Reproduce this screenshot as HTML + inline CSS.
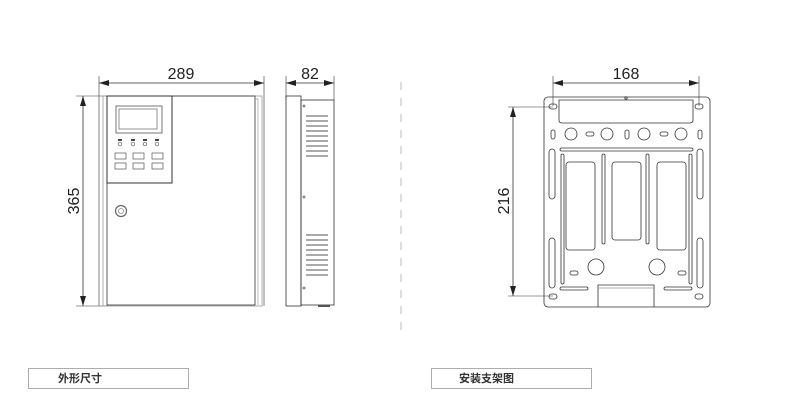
<!DOCTYPE html>
<html><head><meta charset="utf-8"><style>
html,body{margin:0;padding:0;background:#fff;width:800px;height:420px;overflow:hidden}
svg{display:block}
text{font-family:"Liberation Sans",sans-serif;fill:#222}
.c{font-family:"Liberation Sans","Noto Sans CJK SC",sans-serif;font-size:11px;font-weight:bold;fill:#333}
</style></head><body>
<svg width="800" height="420" viewBox="0 0 800 420" xmlns="http://www.w3.org/2000/svg">
<defs>
<marker id="a" viewBox="0 0 10 6" refX="10" refY="3" markerWidth="10" markerHeight="6" orient="auto-start-reverse" markerUnits="userSpaceOnUse"><path d="M0,0 L10,3 L0,6 Z" fill="#222"/></marker>
</defs>
<g stroke="#333" stroke-width="0.8" fill="none">
<line x1="99" y1="76" x2="99" y2="306" stroke-width="0.6"/>
<line x1="264" y1="76" x2="264" y2="306" stroke-width="0.6"/>
<line x1="99" y1="83" x2="264" y2="83" marker-start="url(#a)" marker-end="url(#a)"/>
<line x1="76" y1="96" x2="108" y2="96" stroke-width="0.6"/>
<line x1="76" y1="306" x2="108" y2="306" stroke-width="0.6"/>
<line x1="83" y1="96" x2="83" y2="306" marker-start="url(#a)" marker-end="url(#a)"/>
<rect x="103" y="96" width="159" height="210" stroke="#999"/>
<rect x="107" y="96" width="148" height="209"/>
<line x1="255" y1="99" x2="258" y2="99" stroke="#999"/>
<line x1="258" y1="99" x2="258" y2="305" stroke="#aaa"/>
<rect x="107" y="96" width="65" height="87" stroke="#333" stroke-width="1"/>
<rect x="116" y="106" width="46" height="27" stroke="#555"/>
<rect x="119" y="109" width="38" height="20" stroke="#777"/>
<circle cx="121" cy="211" r="5.5" stroke="#666" stroke-width="1.2"/>
<circle cx="121" cy="211" r="2.5" stroke="#888"/>
<line x1="286" y1="76" x2="286" y2="100" stroke-width="0.6"/>
<line x1="334" y1="76" x2="334" y2="100" stroke-width="0.6"/>
<line x1="286" y1="83" x2="334" y2="83" marker-start="url(#a)" marker-end="url(#a)"/>
<rect x="286" y="96" width="15" height="210"/>
<rect x="301" y="100" width="33" height="205"/>
<line x1="318" y1="306" x2="330" y2="306" stroke="#555" stroke-width="2"/>
<line x1="553" y1="76" x2="553" y2="106" stroke-width="0.6"/>
<line x1="699" y1="76" x2="699" y2="106" stroke-width="0.6"/>
<line x1="553" y1="83" x2="699" y2="83" marker-start="url(#a)" marker-end="url(#a)"/>
<line x1="508" y1="107" x2="553" y2="107" stroke-width="0.6"/>
<line x1="508" y1="296" x2="553" y2="296" stroke-width="0.6"/>
<line x1="513" y1="107" x2="513" y2="296" marker-start="url(#a)" marker-end="url(#a)"/>
<rect x="544" y="97" width="166" height="210" rx="4"/>
<path d="M559 100 V120 Q559 123 562 123 H690 Q693 123 693 120 V100 Z"/>
<circle cx="626" cy="98" r="1.2"/>
<rect x="549" y="104" width="8" height="5" rx="2.5"/><rect x="695" y="104" width="8" height="5" rx="2.5"/>
<rect x="549" y="294" width="8" height="5" rx="2.5"/><rect x="695" y="294" width="8" height="5" rx="2.5"/>
<circle cx="571" cy="134" r="6"/><circle cx="607" cy="134" r="6"/><circle cx="644" cy="134" r="6"/><circle cx="681" cy="134" r="6"/>
<rect x="551" y="130" width="4" height="9" rx="2"/><rect x="625" y="130" width="4" height="9" rx="2"/><rect x="698" y="130" width="4" height="9" rx="2"/>
<rect x="586" y="132" width="8" height="4" rx="2"/><rect x="660" y="132" width="8" height="4" rx="2"/>
<rect x="560" y="148" width="133" height="3" rx="1.5"/>
<rect x="549" y="149" width="6" height="50" rx="3"/><rect x="697" y="149" width="6" height="50" rx="3"/>
<rect x="549" y="238" width="6" height="50" rx="3"/><rect x="697" y="238" width="6" height="50" rx="3"/>
<rect x="561" y="154" width="3" height="130" rx="1.5"/><rect x="689" y="154" width="3" height="130" rx="1.5"/>
<rect x="602" y="154" width="3" height="90" rx="1.5"/><rect x="646" y="154" width="3" height="90" rx="1.5"/>
<rect x="566" y="162" width="29" height="88" rx="3"/>
<rect x="612" y="162" width="29" height="78" rx="3"/>
<rect x="657" y="162" width="29" height="88" rx="3"/>
<circle cx="596" cy="267" r="8"/><circle cx="657" cy="267" r="8"/>
<rect x="570" y="271" width="8" height="4" rx="2"/><rect x="678" y="271" width="8" height="4" rx="2"/>
<rect x="560" y="287" width="28" height="3" rx="1.5"/><rect x="664" y="287" width="28" height="3" rx="1.5"/>
<path d="M598 307 V285 H654 V307"/><line x1="598" y1="288" x2="654" y2="288" stroke="#999"/>
<rect x="28.5" y="368.5" width="160" height="20" stroke="#999"/>
<rect x="431.5" y="368.5" width="160" height="20" stroke="#999"/>
</g>
<g stroke="#777" stroke-width="1.2">
<line x1="306" y1="116" x2="328" y2="116"/><line x1="306" y1="121" x2="328" y2="121"/><line x1="306" y1="126" x2="328" y2="126"/><line x1="306" y1="131" x2="328" y2="131"/><line x1="306" y1="136" x2="328" y2="136"/><line x1="306" y1="141" x2="328" y2="141"/><line x1="306" y1="146" x2="328" y2="146"/><line x1="306" y1="151" x2="328" y2="151"/><line x1="306" y1="156" x2="328" y2="156"/>
<line x1="306" y1="235" x2="328" y2="235"/><line x1="306" y1="240" x2="328" y2="240"/><line x1="306" y1="245" x2="328" y2="245"/><line x1="306" y1="250" x2="328" y2="250"/><line x1="306" y1="255" x2="328" y2="255"/><line x1="306" y1="260" x2="328" y2="260"/><line x1="306" y1="265" x2="328" y2="265"/><line x1="306" y1="270" x2="328" y2="270"/><line x1="306" y1="275" x2="328" y2="275"/>
</g>
<g fill="none" stroke="#555" stroke-width="0.7">
<circle cx="304" cy="106" r="1"/><circle cx="304" cy="197" r="1"/><circle cx="304" cy="288" r="1"/>
<circle cx="120" cy="144" r="1.8"/><circle cx="133" cy="144" r="1.8"/><circle cx="145" cy="144" r="1.8"/><circle cx="157" cy="144" r="1.8"/>
<rect x="115" y="153" width="11" height="6"/><rect x="133" y="153" width="11" height="6"/><rect x="152" y="153" width="11" height="6"/>
<rect x="115" y="163" width="11" height="6"/><rect x="133" y="163" width="11" height="6"/><rect x="152" y="163" width="11" height="6"/>
</g>
<g fill="#444"><rect x="118" y="139" width="4" height="2"/><rect x="131" y="139" width="4" height="2"/><rect x="143" y="139" width="4" height="2"/><rect x="155" y="139" width="4" height="2"/></g>
<line x1="401" y1="82" x2="401" y2="330" stroke="#bbb" stroke-width="1" stroke-dasharray="8 8"/>
<text x="181" y="79" font-size="16" text-anchor="middle">289</text>
<text x="310" y="79" font-size="16" text-anchor="middle">82</text>
<text x="626" y="79" font-size="16" text-anchor="middle">168</text>
<text transform="translate(79,201) rotate(-90)" font-size="16" text-anchor="middle">365</text>
<text transform="translate(509,201) rotate(-90)" font-size="16" text-anchor="middle">216</text>
<text class="c" x="58" y="382">外形尺寸</text>
<text class="c" x="459" y="382">安装支架图</text>
</svg>
</body></html>
